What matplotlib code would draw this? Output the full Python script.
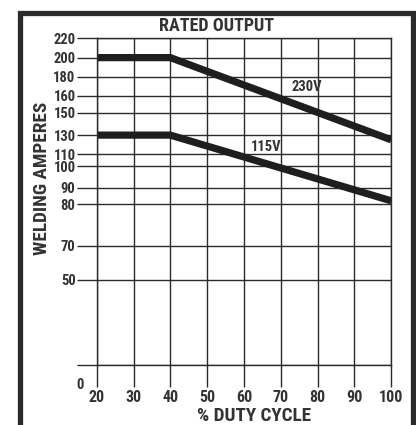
import numpy as np
import matplotlib
matplotlib.use("Agg")
import matplotlib.pyplot as plt
from matplotlib.patches import Rectangle

plt.rcParams['font.family'] = ['Roboto Condensed', 'Liberation Sans', 'DejaVu Sans']

# data
duty_cycle = [20, 40, 100]
amps_230v = [200, 200, 125]
amps_115v = [130, 130, 82]
x_ticks = [20, 30, 40, 50, 60, 70, 80, 90, 100]
y_ticks = [0, 50, 70, 80, 90, 100, 110, 130, 150, 160, 180, 200, 220]
# relative vertical position of each y tick on the printed chart (0 = bottom, 1 = top)
y_tick_pos = [0.0, 0.26, 0.364, 0.492, 0.542, 0.608, 0.645, 0.703, 0.772, 0.823, 0.881, 0.94, 1.0]

def fwd(v):
    return np.interp(v, y_ticks, y_tick_pos)

def inv(p):
    return np.interp(p, y_tick_pos, y_ticks)

dark = '#2b2b2b'
txt = '#333333'
fig = plt.figure(figsize=(4.16, 4.25), dpi=100)
ax = fig.add_axes([96.7/416, 1-365/425, (391.3-96.7)/416, (365-38)/425])
ax.set_yscale('function', functions=(fwd, inv))
ax.set_xlim(20, 100)
ax.set_ylim(0, 220)
ax.set_xticks(x_ticks)
ax.set_yticks(y_ticks)
ax.set_yticklabels([''] + [str(v) for v in y_ticks[1:]])
ax.yaxis.set_minor_locator(matplotlib.ticker.NullLocator())
ax.grid(True, color=dark, lw=1.0)
for s in ax.spines.values():
    s.set_color(dark)
    s.set_linewidth(1.0)
ax.tick_params(axis='y', length=14.2, width=1.0, color=dark, pad=1, labelsize=10.5, labelcolor=txt)
ax.tick_params(axis='x', length=15.8, width=1.0, color=dark, pad=2, labelsize=11.5, labelcolor=txt)
for lab in ax.get_xticklabels() + ax.get_yticklabels():
    lab.set_fontweight('bold')

ax.plot(duty_cycle, amps_230v, color='#1e1e1e', lw=5.2, solid_capstyle='butt', solid_joinstyle='miter')
ax.plot(duty_cycle, amps_115v, color='#1e1e1e', lw=5.2, solid_capstyle='butt', solid_joinstyle='miter')
ax.text(77, 169, '230V', fontsize=10.5, fontweight='bold', color=txt, ha='center', va='center')
ax.text(66, 117.5, '115V', fontsize=10.5, fontweight='bold', color=txt, ha='center', va='center')

fig.text(80/416, 1-385/425, '0', fontsize=10.5, fontweight='bold', color=txt, ha='center', va='center')
fig.text(217/416, 1-26/425, 'RATED OUTPUT', fontsize=13, fontweight='bold', color=txt, ha='center', va='center')
fig.text(254/416, 1-416/425, '% DUTY CYCLE', fontsize=13.8, fontweight='bold', color=txt, ha='center', va='center')
fig.text(42/416, 1-178/425, 'WELDING AMPERES', fontsize=13.8, fontweight='bold', color=txt, ha='center', va='center', rotation=90)

fig.patches.append(Rectangle((19.5/416, -0.1), (412.5-19.5)/416, (1-13/425)+0.1,
                             transform=fig.transFigure, fill=False, edgecolor=dark, lw=3.8))

fig.savefig('out.png', dpi=100, facecolor='white')
